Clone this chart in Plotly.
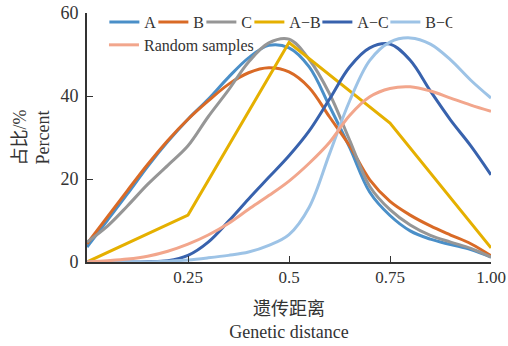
import plotly.graph_objects as go

x_grid = [0, 0.05, 0.10, 0.15, 0.20, 0.25, 0.30, 0.35, 0.40, 0.45, 0.50,
          0.55, 0.60, 0.65, 0.70, 0.75, 0.80, 0.85, 0.90, 0.95, 1.0]

a_vals = [3.6, 10.0, 16.4, 23.0, 29.0, 34.4, 39.2, 44.5, 49.2, 52.2, 51.6,
          47.0, 37.6, 27.6, 16.8, 11.2, 7.5, 5.5, 4.2, 3.0, 1.2]
b_vals = [4.4, 10.8, 17.2, 23.5, 29.3, 34.4, 38.8, 42.8, 45.6, 46.8, 45.8,
          42.0, 35.0, 28.0, 19.8, 14.6, 11.3, 8.7, 6.5, 4.4, 1.5]
c_vals = [4.8, 8.6, 13.5, 18.7, 23.3, 28.0, 35.0, 41.4, 48.2, 52.8, 53.7,
          48.8, 40.6, 29.4, 18.2, 12.6, 8.9, 6.4, 4.8, 3.3, 1.2]
ac_vals = [0, 0, 0, 0.05, 0.3, 1.6, 4.8, 9.8, 15.2, 20.4, 25.6,
           31.6, 39.2, 47.0, 51.6, 52.5, 48.6, 41.2, 34.2, 28.0, 21.0]
bc_vals = [0, 0, 0, 0, 0.2, 0.5, 1.0, 1.6, 2.4, 4.0, 6.6,
           13.2, 26.0, 38.8, 48.6, 53.0, 54.0, 52.5, 48.7, 43.8, 39.5]
rand_vals = [0, 0.3, 0.7, 1.4, 2.6, 4.3, 6.5, 9.3, 12.7, 16.0, 19.5,
             23.8, 28.8, 35.3, 39.8, 41.8, 42.2, 41.2, 39.5, 37.8, 36.3]

ab_x = [0, 0.25, 0.5, 0.75, 1.0]
ab_vals = [0, 11.3, 52.9, 33.5, 3.4]

tick_vals = [0.25, 0.5, 0.75, 1.0]
tick_text = ["0.25", "0.5", "0.75", "1.00"]

FONT = "Liberation Serif, Times New Roman, Noto Sans CJK SC, serif"
LW = 3

fig = go.Figure()
series = [
    ("A", x_grid, a_vals, "#4a8fc8", "spline", 4, "legend"),
    ("B", x_grid, b_vals, "#d96a26", "spline", 3, "legend"),
    ("C", x_grid, c_vals, "#969696", "spline", 3, "legend"),
    ("A\u2212B", ab_x, ab_vals, "#e5b000", "linear", 23, "legend"),
    ("A\u2212C", x_grid, ac_vals, "#3862ad", "spline", 23, "legend"),
    ("B\u2212C", x_grid, bc_vals, "#9dc3e6", "spline", 22, "legend"),
    ("Random samples", x_grid, rand_vals, "#f2a68c", "spline", None, "legend2"),
]
for name, xs, ys, col, shape, lw, leg in series:
    kw = dict(legendwidth=lw) if lw else {}
    fig.add_trace(go.Scatter(x=xs, y=ys, mode="lines", name=name, legend=leg,
                             line=dict(color=col, width=LW, shape=shape), **kw))

fig.update_layout(
    width=508, height=346,
    margin=dict(l=87, r=17, t=13, b=84, autoexpand=False),
    paper_bgcolor="white", plot_bgcolor="white",
    font=dict(family=FONT, size=17, color="#333333"),
    showlegend=True,
    legend=dict(orientation="h", x=0.043, y=1.032, xanchor="left", yanchor="top",
                bgcolor="rgba(0,0,0,0)", font=dict(size=16, family=FONT),
                itemwidth=30),
    legend2=dict(orientation="h", x=0.042, y=0.940, xanchor="left", yanchor="top",
                 bgcolor="rgba(0,0,0,0)", font=dict(size=16, family=FONT),
                 itemwidth=30),
    xaxis=dict(range=[0, 1.0], tickvals=tick_vals, ticktext=tick_text,
               ticks="inside", ticklen=6, tickwidth=1.3, tickcolor="#333333",
               showline=True, linecolor="#333333", linewidth=1.8,
               showgrid=False, zeroline=False, ticklabelstandoff=-1,
               ticklabeloverflow="allow", tickfont=dict(size=17),
               title=dict(text="遗传距离<br>Genetic distance", font=dict(size=18), standoff=16)),
    yaxis=dict(range=[0, 60], tickvals=[0, 20, 40, 60],
               ticks="inside", ticklen=6, tickwidth=1.3, tickcolor="#333333",
               showline=True, linecolor="#333333", linewidth=1.8,
               showgrid=False, zeroline=False, ticklabeloverflow="allow",
               ticklabelstandoff=3, tickfont=dict(size=18),
               title=dict(text="占比/%<br>Percent", font=dict(size=18), standoff=6)),
)

# remove the browser's default 8px body margin so the figure fills the window exactly
fig.write_html("out.html", config={"displayModeBar": False},
               post_script="document.body.style.margin='0px';")
